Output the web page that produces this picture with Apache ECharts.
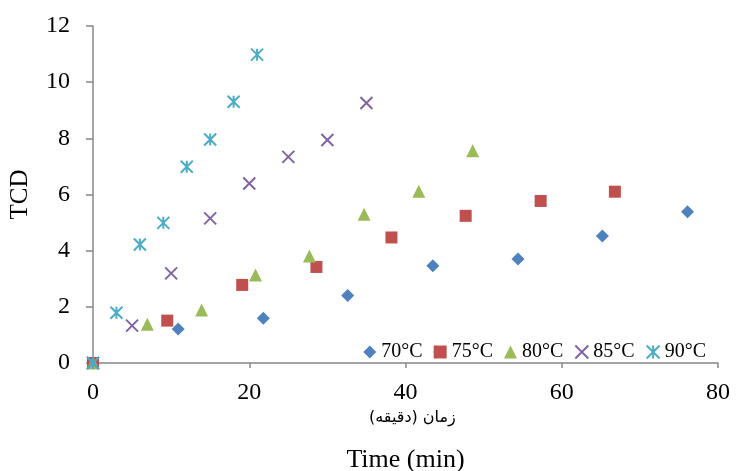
<!DOCTYPE html>
<html>
<head>
<meta charset="utf-8">
<script src="https://cdn.jsdelivr.net/npm/echarts@6/dist/echarts.min.js"></script>
<style>
html,body{margin:0;padding:0;background:#fff;}
#chart{width:736px;height:471px;}
</style>
</head>
<body>
<div id="chart"></div>
<script>
// ---- data ----
const seriesNames = ['70°C', '75°C', '80°C', '85°C', '90°C'];
const time70 = [0, 10.9, 21.8, 32.6, 43.5, 54.4, 65.2, 76.1];
const tcd70  = [0, 1.21, 1.59, 2.40, 3.46, 3.70, 4.52, 5.39];
const time75 = [0, 9.5, 19.1, 28.6, 38.2, 47.7, 57.3, 66.8];
const tcd75  = [0, 1.51, 2.78, 3.42, 4.47, 5.24, 5.77, 6.10];
const time80 = [0, 6.95, 13.9, 20.8, 27.7, 34.7, 41.7, 48.6];
const tcd80  = [0, 1.38, 1.89, 3.13, 3.81, 5.30, 6.12, 7.56];
const time85 = [0, 5, 10, 15, 20, 25, 30, 35];
const tcd85  = [0, 1.33, 3.19, 5.15, 6.39, 7.34, 7.94, 9.26];
const time90 = [0, 3, 6, 9, 12, 15, 18, 21];
const tcd90  = [0, 1.79, 4.22, 4.99, 6.99, 7.96, 9.30, 10.98];
const xTicks = [0, 20, 40, 60, 80];
const yTicks = [0, 2, 4, 6, 8, 10, 12];
const xAxisTitle = 'Time (min)';
const xAxisTitleFa = 'زمان (دقیقه)';
const yAxisTitle = 'TCD';

const pairs = (xs, ys) => xs.map((x, i) => [x, ys[i]]);
const allData = [
  pairs(time70, tcd70), pairs(time75, tcd75), pairs(time80, tcd80),
  pairs(time85, tcd85), pairs(time90, tcd90)
];
const colors = ['#4F81BD', '#C0504D', '#9BBB59', '#8064A2', '#4BACC6'];
const symbols = [
  'diamond', 'rect', 'triangle',
  'path://M0,0L10,10M10,0L0,10',
  'path://M0,0L10,10M10,0L0,10M5,0L5,10'
];
const sizes = [13, 12, 13, 12, 12];

const serif = '"Liberation Serif", "Times New Roman", serif';

const chart = echarts.init(document.getElementById('chart'), null, {renderer: 'canvas'});
chart.setOption({
  animation: false,
  backgroundColor: '#ffffff',
  grid: {left: 93, right: 18, top: 26, bottom: 108, containLabel: false, outerBoundsMode: 'none'},
  xAxis: {
    type: 'value', min: xTicks[0], max: xTicks[xTicks.length - 1], interval: xTicks[1] - xTicks[0],
    name: xAxisTitle, nameLocation: 'middle', nameGap: 84,
    nameTextStyle: {fontFamily: serif, fontSize: 26, color: '#000'},
    axisLine: {lineStyle: {color: '#878787', width: 1.5}},
    axisTick: {show: true, inside: false, length: 5, lineStyle: {color: '#878787', width: 1.5}},
    axisLabel: {fontFamily: serif, fontSize: 24, color: '#000', margin: 18},
    splitLine: {show: false}
  },
  yAxis: {
    type: 'value', min: yTicks[0], max: yTicks[yTicks.length - 1], interval: yTicks[1] - yTicks[0],
    name: yAxisTitle, nameLocation: 'middle', nameGap: 60, nameRotate: 90,
    nameTextStyle: {fontFamily: serif, fontSize: 25, color: '#000'},
    axisLine: {show: true, lineStyle: {color: '#878787', width: 1.5}},
    axisTick: {show: true, inside: false, length: 7, lineStyle: {color: '#878787', width: 1.5}},
    axisLabel: {fontFamily: serif, fontSize: 24, color: '#000', margin: 23},
    splitLine: {show: false}
  },
  legend: {
    data: seriesNames,
    right: 30, top: 342, padding: 0,
    itemWidth: 13, itemHeight: 13, itemGap: 11,
    textStyle: {fontFamily: serif, fontSize: 20, color: '#000'}
  },
  graphic: [{
    type: 'text', left: 369, top: 410, z: 10,
    style: {text: xAxisTitleFa, fontFamily: '"DejaVu Sans", sans-serif', fontSize: 16, fill: '#000'}
  }],
  series: seriesNames.map((name, i) => {
    const isLine = i >= 3;
    return {
      name: name, type: 'scatter', data: allData[i],
      symbol: symbols[i], symbolSize: sizes[i],
      itemStyle: isLine
        ? {color: 'rgba(0,0,0,0)', borderColor: colors[i], borderWidth: 2, opacity: 1}
        : {color: colors[i], opacity: 1},
      z: 2 + i
    };
  })
});
</script>
</body>
</html>
